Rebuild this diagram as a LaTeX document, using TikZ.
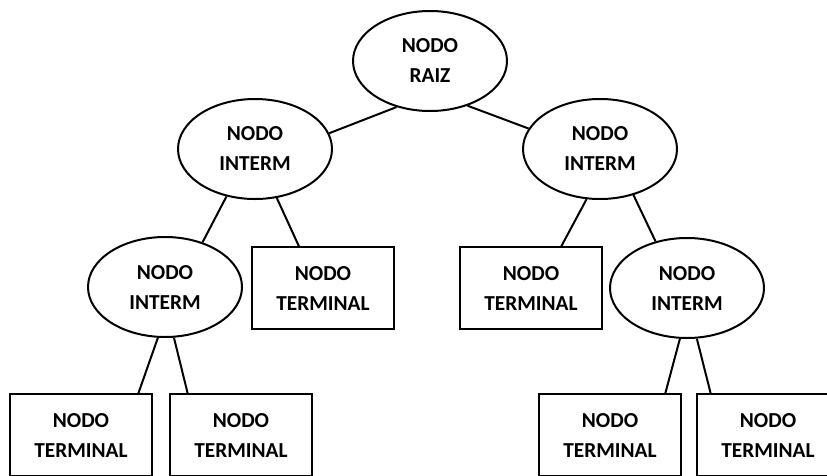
\documentclass[tikz,border=0pt]{standalone}
\usepackage{fontspec}
\setmainfont{Carlito}
\usetikzlibrary{shapes.geometric}
\tikzset{
    x=0.75pt, y=-0.75pt,
    every node/.append style={
        font=\fontsize{16}{22.5}\selectfont\bfseries,
        align=center
    },
    inter/.style={
        ellipse, draw,
        line width=1.5pt,
        minimum width=115.5pt,
        minimum height=75pt,
        inner sep=0pt
    },
    term/.style={
        rectangle, draw,
        line width=1.5pt,
        minimum width=106pt,
        minimum height=61pt,
        inner sep=0pt
    },
    every edge/.append style={
        draw,
        line width=1.5pt
    }
}
\begin{document}
\begin{tikzpicture}
    \useasboundingbox (0,0) rectangle (827,475);
    \clip (0,0) rectangle (827,475);
    % upper levels
    \node[inter] (raiz) at (430,61) {NODO\\RAIZ};
    \node[inter] (intL) at (255,149) {NODO\\INTERM};
    \node[inter] (intR) at (600,149) {NODO\\INTERM};
    \node[inter] (intLL) at (165,287) {NODO\\INTERM};
    \node[term] (termL) at (323,288) {NODO\\TERMINAL};
    \node[term] (termR) at (531,288) {NODO\\TERMINAL};
    \node[inter] (intRR) at (687,288) {NODO\\INTERM};
    % bottom row
    \node[term] (termLL1) at (81,435) {NODO\\TERMINAL};
    \node[term] (termLL2) at (241,435) {NODO\\TERMINAL};
    \node[term] (termRR1) at (610,435) {NODO\\TERMINAL};
    \node[term] (termRR2) at (768,435) {NODO\\TERMINAL};
    \draw (raiz.234) edge (intL.12)
        (raiz.310) edge (intR.164);
    \draw (intL.239) edge (intLL.50)
        (intL.294) edge (termL.120);
    \draw (intR.255) edge (termR.54)
        (intR.306) edge (intRR.124);
    \draw (intLL.262) edge (termLL1.36)
        (intLL.280) edge (termLL2.142);
    \draw (intRR.262) edge (termRR1.37)
        (intRR.281) edge (termRR2.144);
\end{tikzpicture}
\end{document}
